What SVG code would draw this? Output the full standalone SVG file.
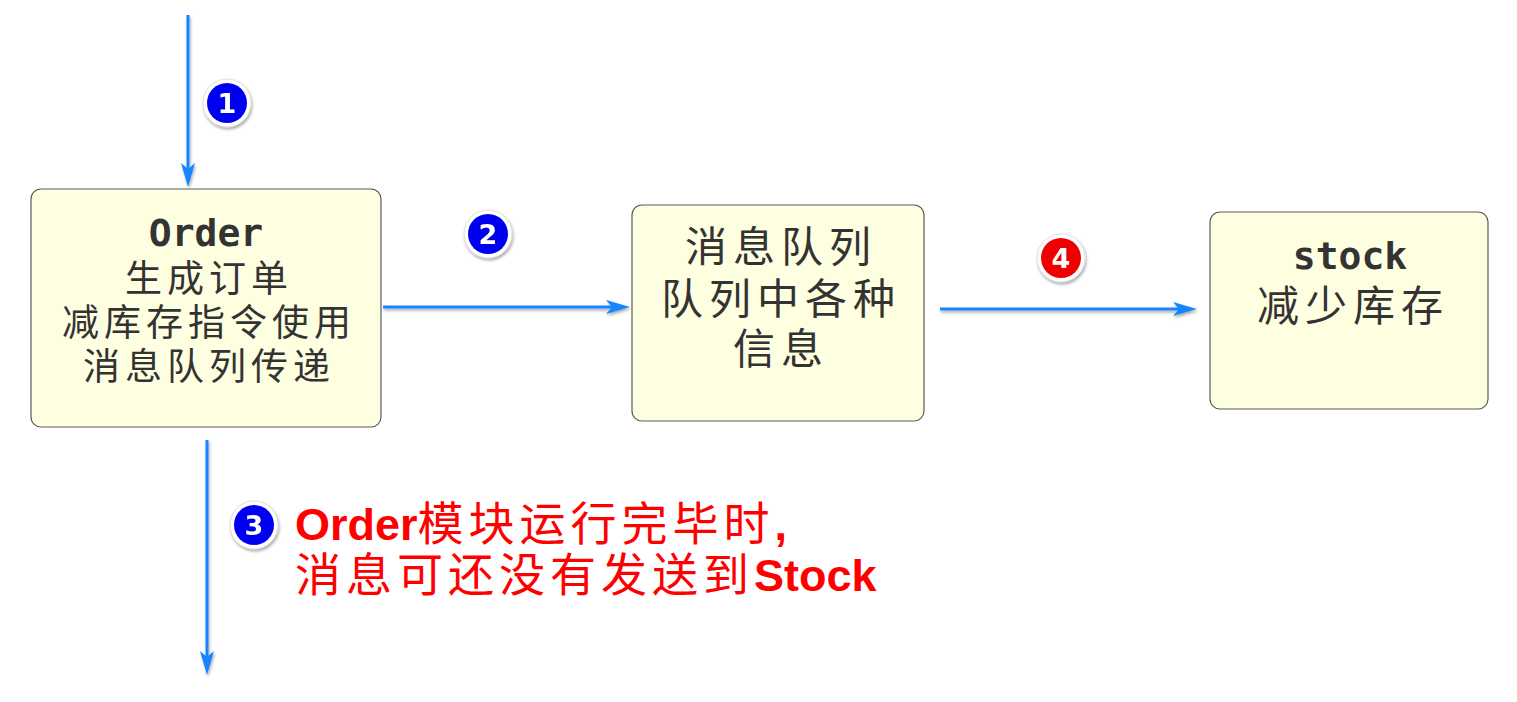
<svg xmlns="http://www.w3.org/2000/svg" width="1517" height="702" viewBox="0 0 1517 702">
<style>
.box{fill:#fefee0;stroke:#5a5a5a;stroke-width:1.2}
.mono{font-family:"DejaVu Sans Mono","Liberation Mono",monospace;font-weight:bold;fill:#333;text-anchor:middle}
.cjk{font-family:"Noto Sans CJK SC",sans-serif;fill:#333;text-anchor:middle}
.edge{stroke:#1585ff;stroke-width:3;fill:none}
.badge-ring{fill:#fff;stroke:#d8d8d8;stroke-width:0.8}
.num{font-family:"DejaVu Sans","Liberation Sans",sans-serif;font-weight:bold;font-size:27px;fill:#fff;text-anchor:middle}
.red{fill:#ff0000}
.lat{font-family:"Liberation Sans",Arial,sans-serif;font-weight:bold;font-size:45px}
.han{font-family:"Noto Sans CJK SC",sans-serif;font-size:46px;letter-spacing:5px}
</style>
<defs>
<filter id="sh" x="-30%" y="-30%" width="160%" height="160%">
<feDropShadow dx="1" dy="2" stdDeviation="1.5" flood-color="#000" flood-opacity="0.35"/>
</filter>
<marker id="ah" markerUnits="userSpaceOnUse" markerWidth="26" markerHeight="16" refX="14" refY="8" orient="auto">
<path d="M0,1 L24,8 L0,15 L6,8 Z" fill="#1585ff"/>
</marker>
</defs>
<g id="connectors" filter="url(#sh)">
<line class="edge" x1="188" y1="15" x2="188" y2="177" marker-end="url(#ah)"/>
<line class="edge" x1="383" y1="307" x2="620" y2="307" marker-end="url(#ah)"/>
<line class="edge" x1="207" y1="440" x2="207" y2="665" marker-end="url(#ah)"/>
<line class="edge" x1="940" y1="309" x2="1187" y2="309" marker-end="url(#ah)"/>
</g>
<g id="order">
<rect class="box" x="31" y="189" width="350" height="238" rx="10"/>
<text class="mono" x="206" y="246" font-size="38">Order</text>
<text class="cjk" x="209" y="292" font-size="37" letter-spacing="5">生成订单</text>
<text class="cjk" x="209" y="336" font-size="37" letter-spacing="5">减库存指令使用</text>
<text class="cjk" x="209" y="380" font-size="37" letter-spacing="5">消息队列传递</text>
</g>
<g id="mq">
<rect class="box" x="632" y="205" width="292" height="216" rx="10"/>
<text class="cjk" x="781" y="262" font-size="42" letter-spacing="6">消息队列</text>
<text class="cjk" x="781" y="314" font-size="42" letter-spacing="6">队列中各种</text>
<text class="cjk" x="781" y="364" font-size="42" letter-spacing="6">信息</text>
</g>
<g id="stock">
<rect class="box" x="1210" y="212" width="278" height="197" rx="10"/>
<text class="mono" x="1350" y="269" font-size="38">stock</text>
<text class="cjk" x="1353" y="321" font-size="42" letter-spacing="6">减少库存</text>
</g>
<g id="badge1" filter="url(#sh)">
<circle class="badge-ring" cx="227" cy="103" r="24"/>
<circle cx="227" cy="103" r="20" fill="#0000f0"/>
<text class="num" x="227" y="113">1</text>
</g>
<g id="badge2" filter="url(#sh)">
<circle class="badge-ring" cx="488" cy="234" r="24"/>
<circle cx="488" cy="234" r="20" fill="#0000f0"/>
<text class="num" x="488" y="244">2</text>
</g>
<g id="badge3" filter="url(#sh)">
<circle class="badge-ring" cx="254" cy="525" r="24"/>
<circle cx="254" cy="525" r="20" fill="#0000f0"/>
<text class="num" x="254" y="535">3</text>
</g>
<g id="badge4" filter="url(#sh)">
<circle class="badge-ring" cx="1061" cy="258" r="24"/>
<circle cx="1061" cy="258" r="20" fill="#f00000"/>
<text class="num" x="1061" y="268">4</text>
</g>
<g id="note">
<text class="red" x="295" y="540"><tspan class="lat">Order</tspan><tspan class="han">模块运行完毕时</tspan><tspan class="lat" font-weight="normal">,</tspan></text>
<text class="red" x="295" y="591"><tspan class="han">消息可还没有发送到</tspan><tspan class="lat">Stock</tspan></text>
</g>
</svg>
